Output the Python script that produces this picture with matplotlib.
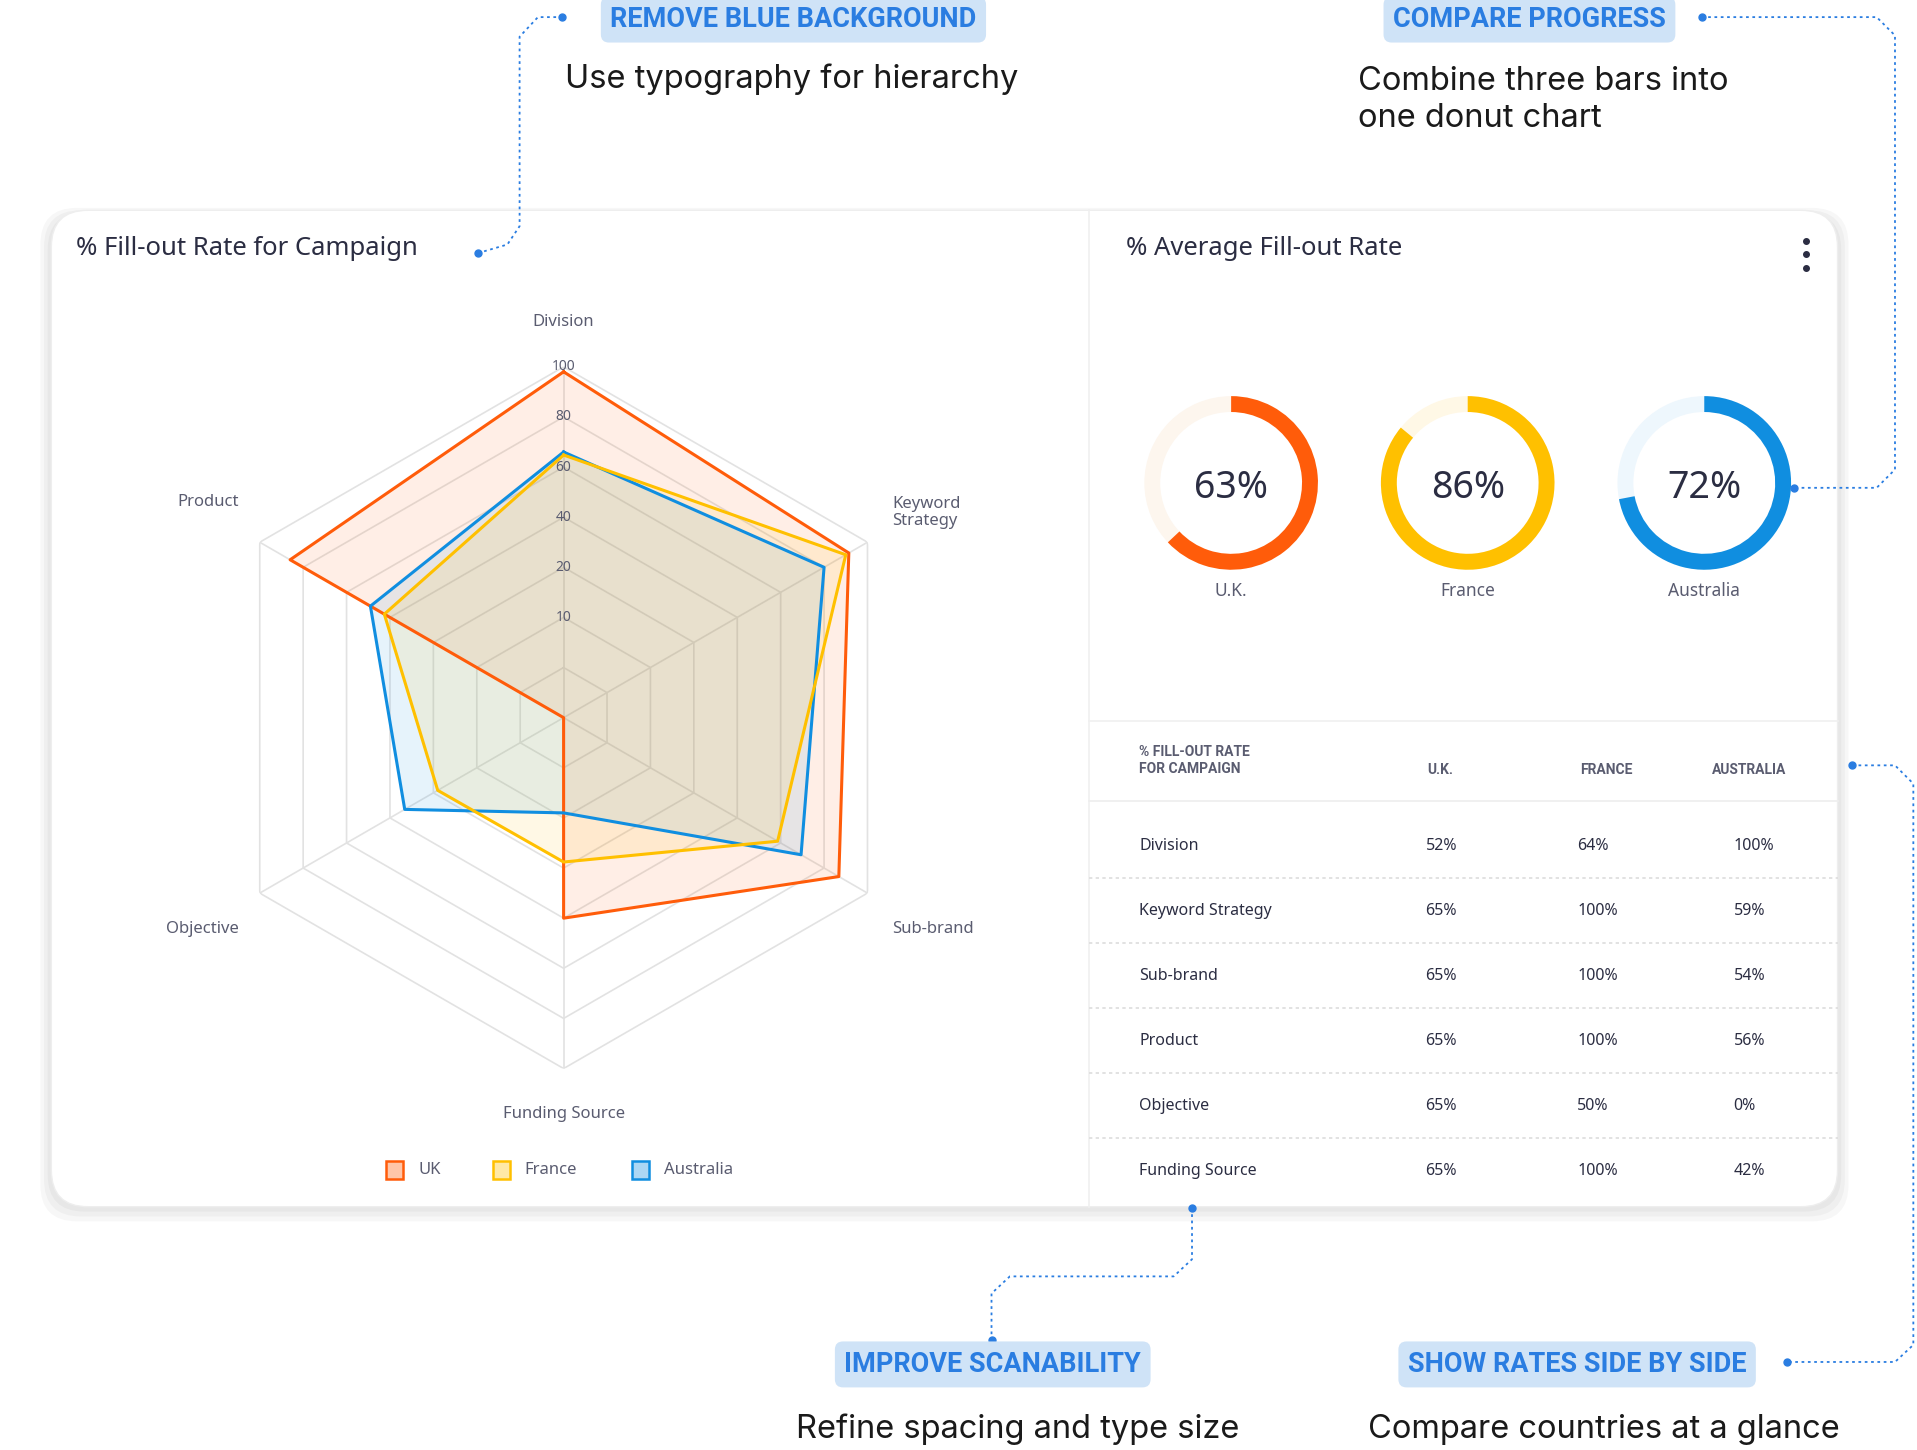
import numpy as np
import matplotlib.pyplot as plt
from matplotlib.patches import FancyBboxPatch, Wedge, Rectangle

plt.rcParams['font.family'] = ['Noto Sans', 'DejaVu Sans']

# radar data (in grid-ring units, 7 rings)
axes_names = ['Division', 'Keyword\nStrategy', 'Sub-brand', 'Funding Source', 'Objective', 'Product']
ring_labels = ['10', '20', '40', '60', '80', '100']
uk = [6.9, 6.57, 6.34, 4.0, 0.0, 6.3]
france = [5.24, 6.5, 4.93, 2.88, 2.9, 4.13]
australia = [5.3, 6.0, 5.47, 1.9, 3.66, 4.45]

# donuts
donut_names = ['U.K.', 'France', 'Australia']
donut_vals = [63, 86, 72]

# table
row_names = ['Division', 'Keyword Strategy', 'Sub-brand', 'Product', 'Objective', 'Funding Source']
t_uk = ['52%', '65%', '65%', '65%', '65%', '65%']
t_fr = ['64%', '100%', '100%', '100%', '50%', '100%']
t_au = ['100%', '59%', '54%', '56%', '0%', '42%']

ORANGE = '#ff5c0a'
YELLOW = '#ffc000'
BLUE = '#108ee0'
DARK = '#2b2d42'
GREY = '#5a5c70'
ANN = '#2a7de1'

fig = plt.figure(figsize=(19.17, 14.5), dpi=100)
ax = fig.add_axes([0, 0, 1, 1])
ax.set_xlim(0, 1568)
ax.set_ylim(1186, 0)
ax.axis('off')

# card with shadow
for i in range(4):
    ax.add_patch(FancyBboxPatch((42 - i * 3, 176 - i * 2), 1461 + i * 6, 811 + i * 6,
                                boxstyle='round,pad=0,rounding_size=30', fc='black', ec='none', alpha=0.03))
ax.add_patch(FancyBboxPatch((42, 172), 1461, 815, boxstyle='round,pad=0,rounding_size=30',
                            fc='white', ec='#eeeeee', lw=1))
ax.plot([891, 891], [172, 987], color='#f0f0f0', lw=1.2)
ax.plot([891, 1503], [590, 590], color='#f0f0f0', lw=1.2)

ax.text(62, 203, '% Fill-out Rate for Campaign', fontsize=18.5, color=DARK, va='center')
ax.text(921, 203, '% Average Fill-out Rate', fontsize=18.5, color=DARK, va='center')
for yy in [197, 208, 219]:
    ax.plot(1477, yy, 'o', color=DARK, ms=4)

# donuts
for i, (name, v) in enumerate(zip(donut_names, donut_vals)):
    cx, cy = 1007 + i * 193.5, 395
    col = [ORANGE, YELLOW, BLUE][i]
    track = ['#fdf6ee', '#fff8e6', '#eef7fd'][i]
    ax.add_patch(Wedge((cx, cy), 71, 0, 360, width=13, fc=track, ec='none'))
    ax.add_patch(Wedge((cx, cy), 71, -90, -90 + 3.6 * v, width=13, fc=col, ec='none'))
    ax.text(cx, cy + 4, f'{v}%', fontsize=27, color=DARK, ha='center', va='center')
    ax.text(cx, cy + 88, name, fontsize=12.5, color=GREY, ha='center', va='center')

# table
ax.text(932, 622, '% FILL-OUT RATE\nFOR CAMPAIGN', fontsize=10, weight='bold', color=GREY,
        va='center', linespacing=1.3, family='Roboto')
for x, h in zip([1178, 1314, 1431], ['U.K.', 'FRANCE', 'AUSTRALIA']):
    ax.text(x, 630, h, fontsize=10, weight='bold', color=GREY, ha='center', va='center', family='Roboto')
ax.plot([891, 1503], [655, 655], color='#eeeeee', lw=1.2)
for j, nm in enumerate(row_names):
    yy = 692 + j * 53.2
    ax.text(932, yy, nm, fontsize=11.5, color=DARK, va='center')
    ax.text(1166, yy, t_uk[j], fontsize=11.5, color=DARK, va='center')
    ax.text(1290, yy, t_fr[j], fontsize=11.5, color=DARK, va='center')
    ax.text(1418, yy, t_au[j], fontsize=11.5, color=DARK, va='center')
    if j < 5:
        ax.plot([891, 1503], [yy + 26, yy + 26], color='#dddddd', lw=1.2, ls=(0, (2, 2)))

# radar
W, H = 1568, 1186
cx, cy, R = 461, 587, 287
rax = fig.add_axes([(cx - R) / W, 1 - (cy + R) / H, 2 * R / W, 2 * R / H], projection='polar')
rax.set_theta_zero_location('N')
rax.set_theta_direction(-1)
rax.set_ylim(0, 7)
rax.axis('off')
n = len(axes_names)
th = np.linspace(0, 2 * np.pi, n, endpoint=False)
thc = np.append(th, th[0])
for r in range(1, 8):
    rax.plot(thc, [r] * (n + 1), color='#e2e2e2', lw=1.2)
for t in th:
    rax.plot([t, t], [0, 7], color='#e2e2e2', lw=1.2)
for vals, col in [(uk, ORANGE), (australia, BLUE), (france, YELLOW)]:
    v = np.append(vals, vals[0])
    rax.fill(thc, v, color=col, alpha=0.1, zorder=2)
    rax.plot(thc, v, color=col, lw=2.2, zorder=3)
for k, lab in enumerate(ring_labels):
    rax.text(0, k + 2, lab, fontsize=10, color=GREY, ha='center', va='center', zorder=5)
lab_pos = [(461, 263, 'center'), (730, 419, 'left'), (730, 760, 'left'),
           (461, 911, 'center'), (195, 760, 'right'), (195, 411, 'right')]
for (x, y, ha), nm in zip(lab_pos, axes_names):
    ax.text(x, y, nm, fontsize=12, color=GREY, ha=ha, va='center', linespacing=1.1)

# legend
for x, nm, col in [(323, 'UK', ORANGE), (410, 'France', YELLOW), (524, 'Australia', BLUE)]:
    ax.add_patch(Rectangle((x - 7, 950), 14, 14, fc=col, ec=col, alpha=0.35, lw=0))
    ax.add_patch(Rectangle((x - 7, 950), 14, 14, fc='none', ec=col, lw=1.8))
    ax.text(x + 19, 957, nm, fontsize=12, color=GREY, va='center')

# annotations
def label(x, y, txt):
    ax.text(x, y, txt, fontsize=19.5, weight='bold', color=ANN, ha='center', va='center',
            family='Roboto',
            bbox=dict(boxstyle='round,pad=0.35,rounding_size=0.3', fc='#cfe3f7', ec='none'))

label(649, 16, 'REMOVE BLUE BACKGROUND')
ax.text(462, 65, 'Use typography for hierarchy', fontsize=23.5, color='#1a1a1a', va='center',
        family='Inter')
label(1251, 16, 'COMPARE PROGRESS')
ax.text(1111, 82, 'Combine three bars into\none donut chart', fontsize=23.5, color='#1a1a1a',
        va='center', linespacing=1.25, family='Inter')
label(812, 1116, 'IMPROVE SCANABILITY')
ax.text(651, 1169, 'Refine spacing and type size', fontsize=23.5, color='#1a1a1a', va='center',
        family='Inter')
label(1290, 1116, 'SHOW RATES SIDE BY SIDE')
ax.text(1119, 1169, 'Compare countries at a glance', fontsize=23.5, color='#1a1a1a', va='center',
        family='Inter')

paths = [
    ([391, 415, 425, 425, 440, 460], [207, 200, 185, 30, 14, 14]),
    ([1392, 1535, 1550, 1550, 1535, 1467], [14, 14, 29, 384, 399, 399]),
    ([975, 975, 960, 826, 811, 811], [988, 1030, 1044, 1044, 1058, 1096]),
    ([1515, 1550, 1565, 1565, 1550, 1462], [626, 626, 641, 1100, 1114, 1114]),
]
for xs, ys in paths:
    ax.plot(xs, ys, color=ANN, lw=1.3, ls=(0, (1.5, 2)))
    ax.plot([xs[0], xs[-1]], [ys[0], ys[-1]], 'o', color=ANN, ms=5)

fig.savefig('out.png', dpi=100)
